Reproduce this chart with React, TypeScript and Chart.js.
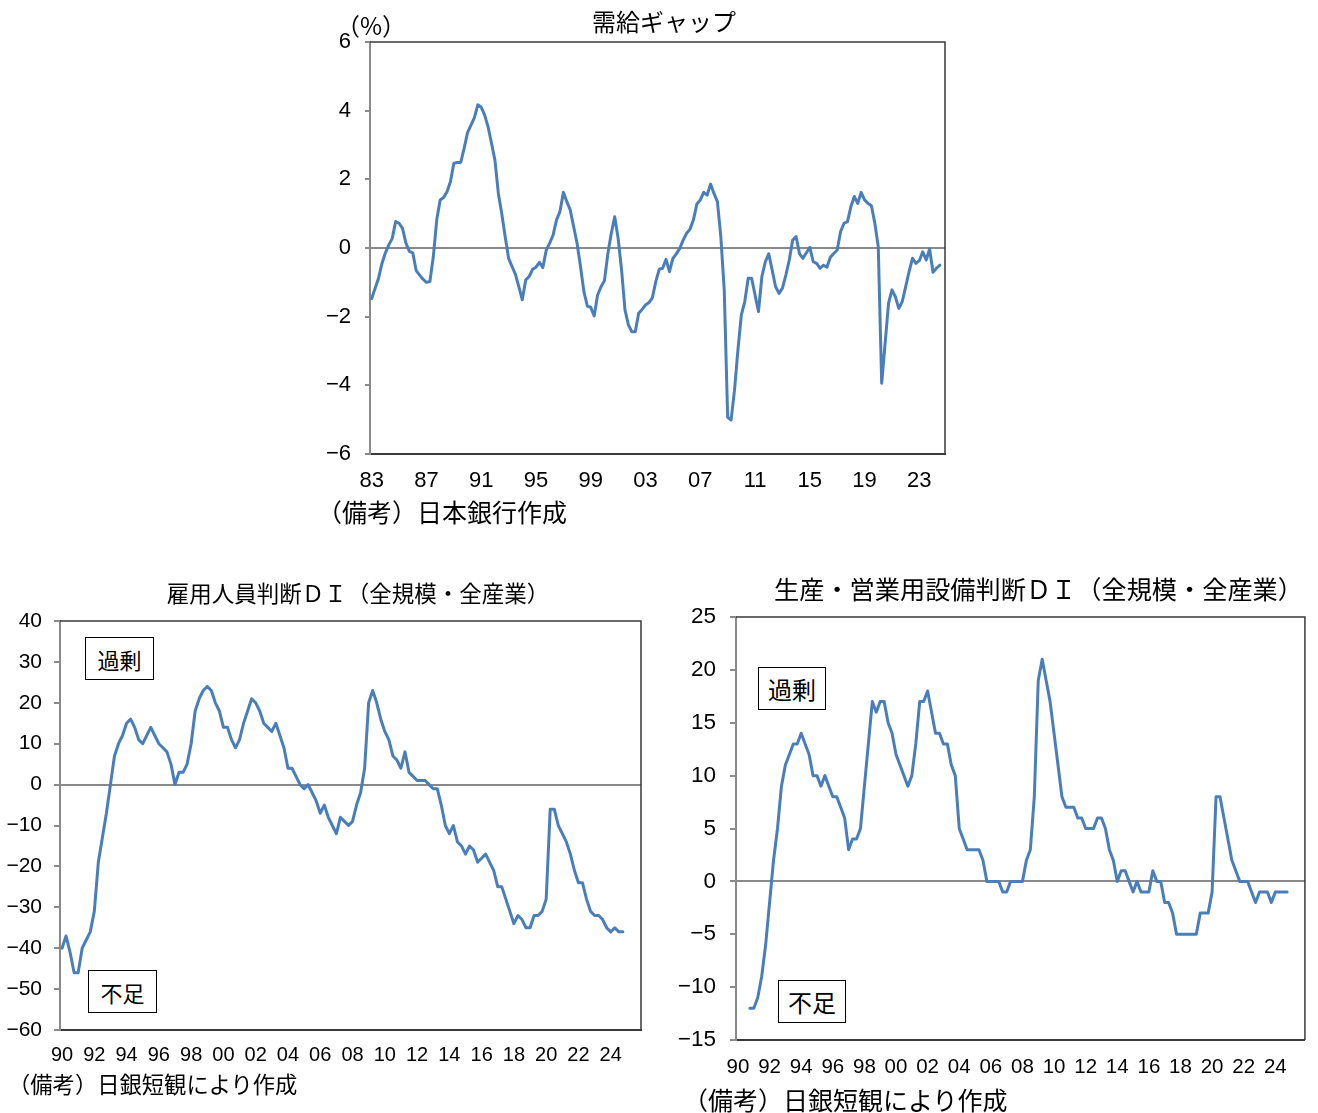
import React, { useEffect, useRef } from 'react';
import { Chart, registerables } from 'chart.js';

Chart.register(...registerables);

// ---------- Data ----------
// 需給ギャップ (quarterly, 1983Q1 - 2024Q3), %
const GAP_START_YEAR = 1983;
const GAP_QUARTER_COUNT = 168;
const GAP_TICK_YEARS = ['83', '87', '91', '95', '99', '03', '07', '11', '15', '19', '23'];
const GAP_VALUES = [
  -1.47, -1.17, -0.88, -0.45, -0.14, 0.09, 0.28, 0.77, 0.72, 0.57,
  0.14, -0.1, -0.14, -0.66, -0.79, -0.91, -1.0, -0.98, -0.25, 0.82,
  1.4, 1.47, 1.64, 1.93, 2.47, 2.49, 2.49, 2.9, 3.36, 3.58,
  3.8, 4.17, 4.1, 3.87, 3.53, 3.05, 2.56, 1.59, 1.0, 0.33,
  -0.3, -0.54, -0.77, -1.13, -1.51, -0.93, -0.83, -0.62, -0.56, -0.42,
  -0.57, -0.06, 0.14, 0.38, 0.82, 1.06, 1.62, 1.35, 1.11, 0.62,
  0.14, -0.54, -1.27, -1.69, -1.73, -1.98, -1.37, -1.13, -0.95, -0.16,
  0.43, 0.91, 0.28, -0.64, -1.8, -2.24, -2.44, -2.44, -1.9, -1.79,
  -1.66, -1.59, -1.45, -0.98, -0.62,
  -0.59, -0.33, -0.69, -0.3, -0.17, -0.01, 0.23, 0.43, 0.55, 0.82,
  1.28, 1.4, 1.62, 1.54, 1.86, 1.59, 1.35, 0.33, -1.22, -4.93,
  -5.01, -4.14, -2.97, -1.95, -1.56, -0.88, -0.88, -1.37, -1.85, -0.83,
  -0.4, -0.17, -0.64, -1.13, -1.32, -1.17, -0.79, -0.35, 0.23, 0.33,
  -0.17, -0.3, -0.14, 0.02, -0.4, -0.45, -0.59, -0.5, -0.56, -0.27,
  -0.16, -0.06, 0.48, 0.72, 0.77, 1.2, 1.5, 1.3, 1.62, 1.4,
  1.3, 1.23, 0.72, 0.04, -3.94, -2.78, -1.61, -1.22, -1.42, -1.76,
  -1.56, -1.13, -0.69, -0.3, -0.45, -0.37, -0.11, -0.35, -0.03, -0.71,
  -0.59, -0.5,
];

// 日銀短観 (quarterly, axis 1990Q1 - 2025Q4)
const TANKAN_START_YEAR = 1990;
const TANKAN_QUARTER_COUNT = 144;
const TANKAN_TICK_YEARS = ['90', '92', '94', '96', '98', '00', '02', '04', '06', '08', '10', '12', '14', '16', '18', '20', '22', '24'];

// 雇用人員判断DI (1990Q1 - 2024Q4)
const EMPLOYMENT_DI = [
  -40, -37, -41, -46, -46, -40, -38, -36, -31, -19,
  -13, -7, 0, 7, 10, 12, 15, 16, 14, 11,
  10, 12, 14, 12, 10, 9, 8, 5, 0, 3,
  3, 5, 10, 18, 21, 23, 24, 23, 20, 18,
  14, 14, 11, 9, 11, 15, 18, 21, 20, 18,
  15, 14, 13, 15, 12, 9, 4, 4, 2, 0,
  -1, 0, -2, -4, -7, -5, -8, -10, -12, -8,
  -9, -10, -9, -5, -2, 4, 20, 23, 20, 16,
  13, 11, 7, 6, 4, 8, 3, 2, 1, 1,
  1, 0, -1, -1, -5, -10, -12, -10, -14, -15,
  -17, -15, -16, -19, -18, -17, -19, -21, -25, -25,
  -28, -31, -34, -32, -33, -35, -35, -32, -32, -31,
  -28, -6, -6, -10, -12, -14, -17, -21, -24, -24,
  -28, -31, -32, -32, -33, -35, -36, -35, -36, -36,
];

// 生産・営業用設備判断DI (1990Q4 - 2024Q4)
const EQUIPMENT_DI = [
  null, null, null, -12, -12, -11, -9, -6, -2, 2,
  5, 9, 11, 12, 13, 13, 14, 13, 12, 10,
  10, 9, 10, 9, 8, 8, 7, 6, 3, 4,
  4, 5, 9, 13, 17, 16, 17, 17, 15, 14,
  12, 11, 10, 9, 10, 13, 17, 17, 18, 16,
  14, 14, 13, 13, 11, 10, 5, 4, 3, 3,
  3, 3, 2, 0, 0, 0, 0, -1, -1, 0,
  0, 0, 0, 2, 3, 8, 19, 21, 19, 17,
  14, 11, 8, 7, 7, 7, 6, 6, 5, 5,
  5, 6, 6, 5, 3, 2, 0, 1, 1, 0,
  -1, 0, -1, -1, -1, 1, 0, 0, -2, -2,
  -3, -5, -5, -5, -5, -5, -5, -3, -3, -3,
  -1, 8, 8, 6, 4, 2, 1, 0, 0, 0,
  -1, -2, -1, -1, -1, -2, -1, -1, -1, -1,
];

function quarterLabels(startYear: number, count: number): string[] {
  const out: string[] = [];
  for (let i = 0; i < count; i++) {
    const y = startYear + Math.floor(i / 4);
    out.push(`${y}Q${(i % 4) + 1}`);
  }
  return out;
}

const GAP_LABELS = quarterLabels(GAP_START_YEAR, GAP_QUARTER_COUNT);
const TANKAN_LABELS = quarterLabels(TANKAN_START_YEAR, TANKAN_QUARTER_COUNT);

// ---------- Styles ----------
const LINE_COLOR = '#4a7ebb';
const AXIS_GRAY = '#8a8a8a';
const FRAME_DARK = '#3a3a3a';
const NUM_FONT = "'Liberation Sans', 'Noto Sans', sans-serif";
const JP_FONT = "'Noto Sans CJK JP', 'Noto Sans', sans-serif";

type Panel = {
  left: number; top: number; width: number; height: number;
  labels: string[]; data: (number | null)[]; tickYears: string[];
  yMin: number; yMax: number; yStep: number;
  yAxisWidth: number; xAxisHeight: number; padTop: number; padRight: number;
  yFont: number; xFont: number; yTickLength: number; yTickPadding: number; xTickPadding: number;
};

const framePlugin = {
  id: 'frameTopRight',
  afterDraw(chart: any) {
    const { ctx, chartArea: a } = chart;
    ctx.save();
    ctx.strokeStyle = FRAME_DARK;
    ctx.lineWidth = 1.5;
    ctx.beginPath();
    ctx.moveTo(a.left, a.top);
    ctx.lineTo(a.right, a.top);
    ctx.lineTo(a.right, a.bottom);
    ctx.stroke();
    ctx.restore();
  },
};

function buildConfig(p: Panel): any {
  return {
    type: 'line',
    data: {
      labels: p.labels,
      datasets: [{
        data: p.data,
        borderColor: LINE_COLOR,
        borderWidth: 3,
        pointRadius: 0,
        fill: false,
        tension: 0,
        spanGaps: false,
        borderJoinStyle: 'round',
        borderCapStyle: 'round',
      }],
    },
    options: {
      animation: false,
      responsive: false,
      devicePixelRatio: 1,
      events: [],
      layout: { padding: { top: p.padTop, right: p.padRight, left: 0, bottom: 0 } },
      plugins: { legend: { display: false }, tooltip: { enabled: false }, title: { display: false } },
      scales: {
        x: {
          type: 'category',
          offset: true,
          grid: { display: false, drawTicks: false },
          border: { display: true, color: FRAME_DARK, width: 2 },
          ticks: {
            autoSkip: false,
            maxRotation: 0,
            minRotation: 0,
            padding: p.xTickPadding,
            color: '#000',
            font: { family: NUM_FONT, size: p.xFont },
            callback: (_v: any, index: number) => {
              const lab = p.labels[index];
              if (!lab || !lab.endsWith('Q1')) return '';
              const yy = lab.slice(2, 4);
              return p.tickYears.includes(yy) ? yy : '';
            },
          },
          afterFit: (scale: any) => { scale.height = p.xAxisHeight; },
        },
        y: {
          position: 'left',
          min: p.yMin,
          max: p.yMax,
          grid: {
            drawTicks: true,
            tickLength: p.yTickLength,
            tickColor: AXIS_GRAY,
            tickWidth: 2,
            lineWidth: 2,
            color: (ctx: any) => (ctx.tick && ctx.tick.value === 0 ? AXIS_GRAY : 'rgba(0,0,0,0)'),
          },
          border: { display: true, color: AXIS_GRAY, width: 2 },
          ticks: {
            stepSize: p.yStep,
            padding: p.yTickPadding,
            color: '#000',
            font: { family: NUM_FONT, size: p.yFont },
            callback: (v: any) => String(v).replace('-', '\u2212'),
          },
          afterFit: (scale: any) => { scale.width = p.yAxisWidth; },
        },
      },
    },
    plugins: [framePlugin],
  };
}

function PanelChart({ p }: { p: Panel }) {
  const ref = useRef<HTMLCanvasElement>(null);
  useEffect(() => {
    if (!ref.current) return;
    const chart = new Chart(ref.current, buildConfig(p));
    return () => chart.destroy();
  }, []);
  return (
    <canvas
      ref={ref}
      width={p.width}
      height={p.height}
      style={{ position: 'absolute', left: p.left, top: p.top, width: p.width, height: p.height }}
    />
  );
}

const gapPanel: Panel = {
  left: 290, top: 0, width: 680, height: 510,
  labels: GAP_LABELS, data: GAP_VALUES, tickYears: GAP_TICK_YEARS,
  yMin: -6, yMax: 6, yStep: 2,
  yAxisWidth: 80, xAxisHeight: 56, padTop: 42, padRight: 25,
  yFont: 22, xFont: 22, yTickLength: 5, yTickPadding: 14, xTickPadding: 14,
};

const employmentPanel: Panel = {
  left: 0, top: 580, width: 660, height: 500,
  labels: TANKAN_LABELS, data: EMPLOYMENT_DI, tickYears: TANKAN_TICK_YEARS,
  yMin: -60, yMax: 40, yStep: 10,
  yAxisWidth: 60, xAxisHeight: 50, padTop: 41, padRight: 19,
  yFont: 21, xFont: 20, yTickLength: 6, yTickPadding: 12, xTickPadding: 13,
};

const equipmentPanel: Panel = {
  left: 670, top: 580, width: 648, height: 510,
  labels: TANKAN_LABELS, data: EQUIPMENT_DI, tickYears: TANKAN_TICK_YEARS,
  yMin: -15, yMax: 25, yStep: 5,
  yAxisWidth: 66, xAxisHeight: 50, padTop: 37, padRight: 10,
  yFont: 22.5, xFont: 20.5, yTickLength: 6, yTickPadding: 14, xTickPadding: 15,
};

function Txt({ x, y, size, children, w, align }: { x: number; y: number; size: number; children: React.ReactNode; w?: number; align?: 'left' | 'center' }) {
  return (
    <div
      style={{
        position: 'absolute',
        left: x,
        top: y - size / 2,
        width: w,
        fontFamily: JP_FONT,
        fontSize: size,
        lineHeight: `${size}px`,
        whiteSpace: 'nowrap',
        textAlign: align || 'left',
        color: '#000',
      }}
    >
      {children}
    </div>
  );
}

function Box({ x, y, w, h, size, children }: { x: number; y: number; w: number; h: number; size: number; children: React.ReactNode }) {
  return (
    <div
      style={{
        position: 'absolute', left: x, top: y, width: w, height: h, boxSizing: 'border-box',
        border: '1px solid #000', background: '#fff', display: 'flex', alignItems: 'center',
        justifyContent: 'center', fontFamily: JP_FONT, fontSize: size, color: '#000',
      }}
    >
      {children}
    </div>
  );
}

export default function App() {
  return (
    <div style={{ position: 'absolute', left: 0, top: 0, width: 1318, height: 1113, background: '#fff', overflow: 'hidden' }}>
      <PanelChart p={gapPanel} />
      <PanelChart p={employmentPanel} />
      <PanelChart p={equipmentPanel} />

      <Txt x={464} y={21} size={24} w={400} align="center">需給ギャップ</Txt>
      <Txt x={336} y={25} size={24}>（%）</Txt>
      <Txt x={317} y={511} size={25}>（備考）日本銀行作成</Txt>

      <Txt x={158} y={592} size={22.5} w={400} align="center">雇用人員判断ＤＩ（全規模・全産業）</Txt>
      <Txt x={8} y={1083} size={22.3}>（備考）日銀短観により作成</Txt>
      <Box x={85} y={637} w={69} h={43} size={22}>過剰</Box>
      <Box x={88} y={970} w={69} h={43} size={22}>不足</Box>

      <Txt x={774} y={589} size={25.2} w={500} align="center">生産・営業用設備判断ＤＩ（全規模・全産業）</Txt>
      <Txt x={683} y={1099} size={25}>（備考）日銀短観により作成</Txt>
      <Box x={758} y={667} w={68} h={43} size={24}>過剰</Box>
      <Box x={778} y={980} w={68} h={43} size={24}>不足</Box>
    </div>
  );
}
